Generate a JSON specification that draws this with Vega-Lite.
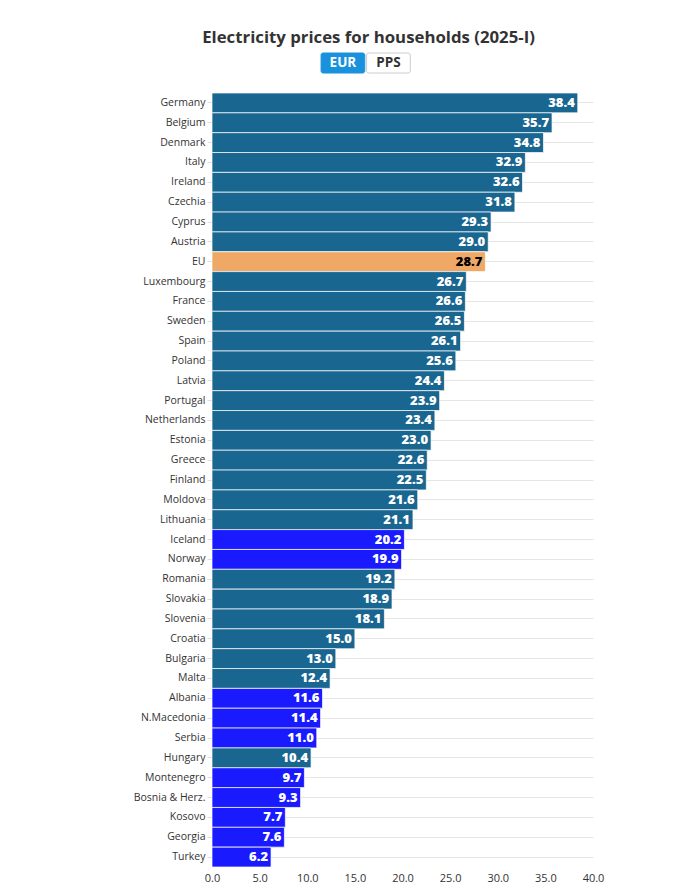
{
  "$schema": "https://vega.github.io/schema/vega-lite/v6.json",
  "padding": {"left": 133, "top": 29, "right": 10, "bottom": 5},
  "background": "white",
  "title": {"text": "Electricity prices for households (2025-I)", "anchor": "middle", "fontSize": 16.8, "font": "Open Sans", "fontWeight": "bold", "color": "#333333", "offset": 6},
  "config": {"view": {"stroke": null}, "font": "Open Sans"},
  "spacing": 18,
  "resolve": {"scale": {"color": "independent", "x": "independent", "y": "independent"}},
  "vconcat": [
    {
      "width": 381,
      "height": 20,
      "data": {"values": [{"b": "EUR", "sel": "on"}, {"b": "PPS", "sel": "off"}]},
      "encoding": {
        "x": {"field": "b", "type": "nominal", "axis": null, "sort": null,
              "scale": {"domain": ["_a", "_b", "EUR", "PPS", "_c", "_d", "_e", "_f"], "paddingInner": 0.04, "paddingOuter": 0.207, "align": 0.96}}
      },
      "layer": [
        {"mark": {"type": "rect", "cornerRadius": 2, "strokeWidth": 1},
         "encoding": {
           "fill": {"condition": {"test": "datum.sel === 'on'", "value": "#1a91dc"}, "value": "#ffffff"},
           "stroke": {"condition": {"test": "datum.sel === 'on'", "value": "#1a91dc"}, "value": "#cccccc"}
         }},
        {"mark": {"type": "text", "fontWeight": "bold", "fontSize": 13.5, "baseline": "middle"},
         "encoding": {
           "text": {"field": "b"},
           "fill": {"condition": {"test": "datum.sel === 'on'", "value": "#ffffff"}, "value": "#333333"}
         }}
      ]
    },
    {
      "width": 381,
      "height": 774,
      "data": {"values": [
        {"country": "Germany", "value": 38.4, "group": "member"},
        {"country": "Belgium", "value": 35.7, "group": "member"},
        {"country": "Denmark", "value": 34.8, "group": "member"},
        {"country": "Italy", "value": 32.9, "group": "member"},
        {"country": "Ireland", "value": 32.6, "group": "member"},
        {"country": "Czechia", "value": 31.8, "group": "member"},
        {"country": "Cyprus", "value": 29.3, "group": "member"},
        {"country": "Austria", "value": 29.0, "group": "member"},
        {"country": "EU", "value": 28.7, "group": "EU"},
        {"country": "Luxembourg", "value": 26.7, "group": "member"},
        {"country": "France", "value": 26.6, "group": "member"},
        {"country": "Sweden", "value": 26.5, "group": "member"},
        {"country": "Spain", "value": 26.1, "group": "member"},
        {"country": "Poland", "value": 25.6, "group": "member"},
        {"country": "Latvia", "value": 24.4, "group": "member"},
        {"country": "Portugal", "value": 23.9, "group": "member"},
        {"country": "Netherlands", "value": 23.4, "group": "member"},
        {"country": "Estonia", "value": 23.0, "group": "member"},
        {"country": "Greece", "value": 22.6, "group": "member"},
        {"country": "Finland", "value": 22.5, "group": "member"},
        {"country": "Moldova", "value": 21.6, "group": "member"},
        {"country": "Lithuania", "value": 21.1, "group": "member"},
        {"country": "Iceland", "value": 20.2, "group": "other"},
        {"country": "Norway", "value": 19.9, "group": "other"},
        {"country": "Romania", "value": 19.2, "group": "member"},
        {"country": "Slovakia", "value": 18.9, "group": "member"},
        {"country": "Slovenia", "value": 18.1, "group": "member"},
        {"country": "Croatia", "value": 15.0, "group": "member"},
        {"country": "Bulgaria", "value": 13.0, "group": "member"},
        {"country": "Malta", "value": 12.4, "group": "member"},
        {"country": "Albania", "value": 11.6, "group": "other"},
        {"country": "N.Macedonia", "value": 11.4, "group": "other"},
        {"country": "Serbia", "value": 11.0, "group": "other"},
        {"country": "Hungary", "value": 10.4, "group": "member"},
        {"country": "Montenegro", "value": 9.7, "group": "other"},
        {"country": "Bosnia & Herz.", "value": 9.3, "group": "other"},
        {"country": "Kosovo", "value": 7.7, "group": "other"},
        {"country": "Georgia", "value": 7.6, "group": "other"},
        {"country": "Turkey", "value": 6.2, "group": "other"}
      ]},
      "encoding": {
        "y": {"field": "country", "type": "nominal", "sort": null, "title": null,
              "scale": {"paddingInner": 0, "paddingOuter": 0},
              "axis": {"domain": false, "ticks": true, "tickSize": 5, "tickColor": "#dddddd", "grid": true, "gridColor": "#e6e6e6", "labelFontSize": 10.5, "labelColor": "#333333", "labelPadding": 2, "labelFont": "Open Sans"}},
        "x": {"field": "value", "type": "quantitative", "title": null,
              "scale": {"domain": [0, 40], "nice": false},
              "axis": {"values": [0, 5, 10, 15, 20, 25, 30, 35, 40], "format": ".1f", "domain": false, "ticks": false, "grid": false, "labelFlush": false, "labelFontSize": 11, "labelColor": "#333333", "labelPadding": 5, "labelFont": "Open Sans"}}
      },
      "layer": [
        {"mark": {"type": "bar", "stroke": "#ffffff", "strokeWidth": 1, "strokeOpacity": 0.7},
         "encoding": {
           "color": {"field": "group", "type": "nominal", "legend": null,
                     "scale": {"domain": ["member", "EU", "other"], "range": ["#196690", "#efa866", "#1a1aff"]}}
         }},
        {"mark": {"type": "text", "align": "right", "dx": -3, "baseline": "middle", "fontWeight": 800, "fontSize": 13, "font": "Open Sans"},
         "encoding": {
           "text": {"field": "value", "type": "quantitative", "format": ".1f"},
           "fill": {"condition": {"test": "datum.group === 'EU'", "value": "#000000"}, "value": "#ffffff"}
         }}
      ]
    }
  ]
}
